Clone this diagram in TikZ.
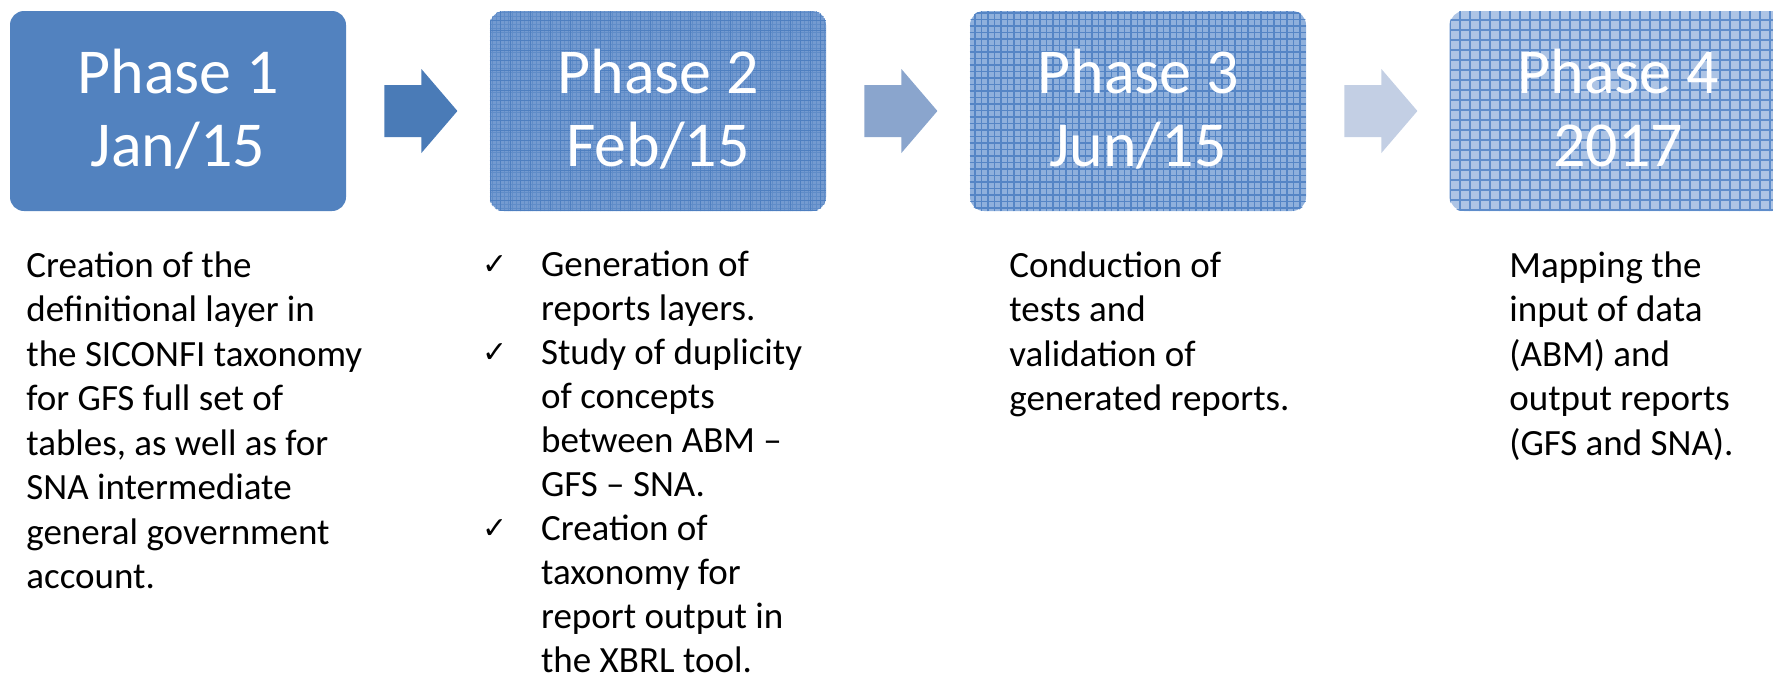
\documentclass[tikz,border=0pt]{standalone}
\usepackage{fontspec}
\setmainfont{Carlito}
\newfontfamily\symfont{DejaVu Sans}
\usetikzlibrary{calc}
\definecolor{boxA}{HTML}{5282BF}
\definecolor{boxB}{HTML}{739AD0}
\definecolor{boxC}{HTML}{8FB0DC}
\definecolor{boxD}{HTML}{ADC4E5}
\definecolor{lineB}{HTML}{4E7FC0}
\definecolor{lineBf}{HTML}{5F8CC8}
\definecolor{lineC}{HTML}{5585C5}
\definecolor{lineD}{HTML}{5F8DCB}
\definecolor{arrA}{HTML}{4A7BB7}
\definecolor{arrB}{HTML}{8AA5CD}
\definecolor{arrC}{HTML}{C3CFE4}
\newcommand{\headtext}[2]{\vtop{\baselineskip=36.5pt\halign{\hfil##\hfil\cr #1\cr #2\cr}}}
\newcommand{\bodytext}[1]{\vtop{\baselineskip=22.25pt\halign{##\hfil\cr #1}}}
\newcommand{\checktext}[1]{\vtop{\baselineskip=22pt\halign{\hbox to 29.35pt{##\hfil}&##\hfil\cr #1}}}
\newcommand{\ck}{\raisebox{0.8pt}{\symfont\fontsize{15}{15}\selectfont ✓}}
\newcommand{\blockarrow}[2]{\fill[#2] ($(#1.east)+(38,-26)$) -- ++(37,0) -- ++(0,-16) -- ++(36,42) -- ++(-36,42) -- ++(0,-16) -- ++(-37,0) -- cycle;}
\begin{document}
\begin{tikzpicture}[x=0.5pt,y=-0.5pt,
  phasebox/.style={minimum width=168pt, minimum height=100pt, rounded corners=7pt, inner sep=0pt, draw=none},
  heading/.style={text=white, font=\fontsize{32}{36.5}\selectfont, anchor=base, inner sep=0pt},
  body/.style={text=black, font=\fontsize{18.5}{22.25}\selectfont, anchor=base west, inner sep=0pt}]
\useasboundingbox (0,0) rectangle (1773,681);
% phase boxes
\node[phasebox, fill=boxA] (p1) at (178,111) {};
\node[phasebox, fill=boxB] (p2) at (658,111) {};
\node[phasebox, fill=boxC] (p3) at (1138,111) {};
\node[phasebox, fill=boxD] (p4) at (1618,111) {};
% textures
\begin{scope}
\clip[rounded corners=7pt] (p2.south west) rectangle (p2.north east);
\draw[lineBf, line width=0.35pt, step=2pt] (p2.south west) grid (p2.north east);
\draw[lineB, line width=0.5pt, step=5pt] (p2.south west) grid (p2.north east);
\end{scope}
\begin{scope}
\clip[rounded corners=7pt] (p3.south west) rectangle (p3.north east);
\draw[lineC, line width=0.7pt, step=3.25pt] (p3.south west) grid (p3.north east);
\end{scope}
\begin{scope}
\clip[rounded corners=7pt] (p4.south west) rectangle (p4.north east);
\draw[lineD, line width=0.6pt, step=5pt] (p4.south west) grid (p4.north east);
\end{scope}
% headings
\node[heading] (h1) at (178,93) {\headtext{Phase 1}{Jan/15}};
\node[heading] (h2) at (658,93) {\headtext{Phase 2}{Feb/15}};
\node[heading] (h3) at (1138,93) {\headtext{Phase 3}{Jun/15}};
\node[heading] (h4) at (1618,93) {\headtext{Phase 4}{2017}};
% arrows
\blockarrow{p1}{arrA}
\blockarrow{p2}{arrB}
\blockarrow{p3}{arrC}
% descriptions
\node[body] (d1) at (26,277) {\bodytext{Creation of the\cr definitional layer in\cr the SICONFI taxonomy\cr for GFS full set of\cr tables, as well as for\cr SNA intermediate\cr general government\cr account.\cr}};
\node[body] (d2) at (482,276) {\checktext{\ck & Generation of\cr & reports layers.\cr \ck & Study of duplicity\cr & of concepts\cr & between ABM --\cr & GFS -- SNA.\cr \ck & Creation of\cr & taxonomy for\cr & report output in\cr & the XBRL tool.\cr}};
\node[body] (d3) at (1009,277) {\bodytext{Conduction of\cr tests and\cr validation of\cr generated reports.\cr}};
\node[body] (d4) at (1509,277) {\bodytext{Mapping the\cr input of data\cr (ABM) and\cr output reports\cr (GFS and SNA).\cr}};
\end{tikzpicture}
\end{document}
